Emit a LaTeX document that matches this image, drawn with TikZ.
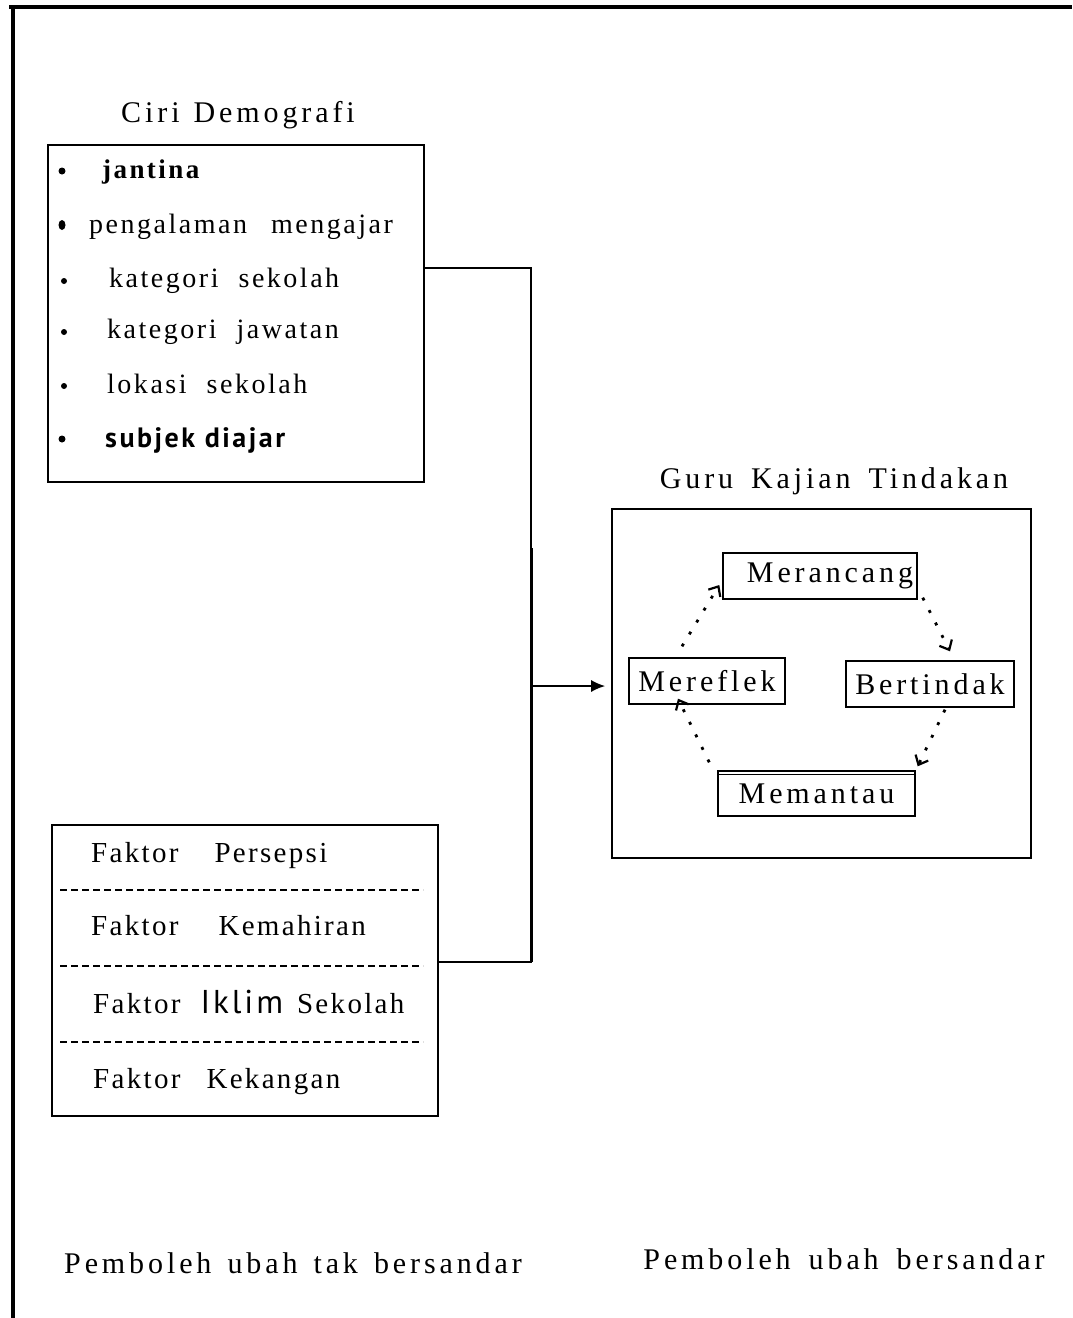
\documentclass[tikz,border=0pt]{standalone}
\usepackage{fontspec}
\setmainfont{Liberation Serif}
\newfontfamily\jarak[LetterSpace=13]{Liberation Serif}
\newfontfamily\butiran[LetterSpace=9]{Liberation Serif}
\newfontfamily\renggang[LetterSpace=8]{Liberation Serif}
\newfontfamily\tebal[LetterSpace=9]{PT Sans}
\usetikzlibrary{arrows.meta,shapes.geometric}

\begin{document}
\begin{tikzpicture}[x=1pt,y=-1pt]
\tikzstyle{kotak}=[draw, line width=1.6pt, inner sep=0pt]
\tikzstyle{tajuk}=[inner sep=0pt, anchor=base, font=\fontsize{30}{32}\selectfont\jarak]
\tikzstyle{butir}=[inner sep=0pt, anchor=base west, font=\fontsize{28}{30}\selectfont\butiran]
\tikzstyle{faktor}=[inner sep=0pt, anchor=base west, font=\fontsize{29}{32}\selectfont\renggang]
\tikzstyle{titik}=[circle, fill, inner sep=0pt, minimum size=7pt]
\tikzstyle{langkah}=[draw, line width=1.4pt, inner sep=0pt, font=\fontsize{30}{32}\selectfont\jarak]
\tikzstyle{kitar}=[line width=2.8pt, dash pattern=on 3pt off 11pt, -{Straight Barb[length=8pt,width=14pt,line width=2.2pt]}]
\tikzstyle{putus}=[line width=2pt, dash pattern=on 7pt off 4pt]
\useasboundingbox (0,0) rectangle (1072,1318);
% bingkai luar
\draw[line width=3.5pt] (9,7) -- (1072,7);
\draw[line width=3.5pt] (13,7) -- (13,1318);
% ciri demografi
\node[tajuk] (tciri) at (238,122) {Ciri\hspace{14pt}Demografi};
\node[kotak, minimum width=376pt, minimum height=337pt] (ciri) at (236,313.5) {};
\node[titik] (b1) at (62,171) {};
\node[butir, font=\fontsize{27}{30}\selectfont\butiran\bfseries] (jantina) at (102,178) {jantina};
\node[ellipse, fill, inner sep=0pt, minimum width=7pt, minimum height=10pt] (b2) at (62,225) {};
\node[butir] (alaman) at (89,233) {pengalaman\hspace{24pt}mengajar};
\node[titik, minimum size=6pt] (b3) at (64,281) {};
\node[butir] (sekolah) at (109,287) {kategori\hspace{20pt}sekolah};
\node[titik, minimum size=6pt] (b4) at (64,332) {};
\node[butir] (jawatan) at (107,338) {kategori\hspace{20pt}jawatan};
\node[titik, minimum size=6pt] (b5) at (64,386) {};
\node[butir] (lokasi) at (107,393) {lokasi\hspace{20pt}sekolah};
\node[titik] (b6) at (62,439) {};
\node[butir, font=\fontsize{28}{30}\selectfont\tebal\bfseries] (subjek) at (105,447) {subjek diajar};
% faktor
\node[kotak, minimum width=386pt, minimum height=291pt] (faktor) at (245,970.5) {};
\node[faktor] (f1) at (91,862) {Faktor\hspace{36pt}Persepsi};
\node[faktor] (f2) at (91,935) {Faktor\hspace{40pt}Kemahiran};
\node[faktor] (f3) at (93,1013) {Faktor\hspace{20pt}{\tebal\fontsize{33}{34}\selectfont Iklim}\hspace{14pt}Sekolah};
\node[faktor] (f4) at (93,1088) {Faktor\hspace{26pt}Kekangan};
\foreach \y in {890,966,1042}
  \draw[putus] (60,\y) -- (423,\y);
% penyambung
\coordinate (s1) at (531,268);
\coordinate (s2) at (531,962);
\coordinate (s3) at (531,686);
\coordinate (s4) at (531,548);
\draw[line width=1.6pt] (ciri.east |- s1) -- (s1) -- (s2) -- (faktor.east |- s2);
\draw[line width=3pt] (s4) -- (s2);
% guru kajian tindakan
\node[tajuk] (tguru) at (834,488) {Guru\hspace{18pt}Kajian\hspace{18pt}Tindakan};
\node[kotak, minimum width=419pt, minimum height=349pt] (guru) at (821.5,683.5) {};
\draw[line width=1.8pt, -{Latex[length=14pt,width=12pt]}, shorten >=6pt] (s3) -- (guru.west |- s3);
\node[langkah, minimum width=194pt, minimum height=46pt] (rancang) at (820,576) {\hspace{20pt}Merancang};
\node[langkah, minimum width=156pt, minimum height=46pt] (refleks) at (707,681) {Mereflek};
\node[langkah, minimum width=168pt, minimum height=46pt] (tindak) at (930,684) {Bertindak};
\node[langkah, minimum width=197pt, minimum height=45pt] (pantau) at (816.5,793.5) {Memantau\hspace{28pt}};
\draw[line width=1.4pt] ([yshift=-4pt]pantau.north west) -- ([yshift=-4pt]pantau.north east);
\draw[kitar] ([xshift=-25pt,yshift=11pt]refleks.north) -- ([xshift=-3pt,yshift=-9pt]rancang.west);
\draw[kitar] ([xshift=5pt,yshift=2pt]rancang.south east) -- ([xshift=20pt,yshift=9pt]tindak.north);
\draw[kitar] ([xshift=15pt,yshift=-2pt]tindak.south) -- ([xshift=2pt,yshift=4pt]pantau.north east);
\draw[kitar] ([xshift=-8pt,yshift=8pt]pantau.north west) -- ([xshift=-29pt,yshift=6pt]refleks.south);
% pemboleh ubah
\node[tajuk] (tbebas) at (293,1273) {Pemboleh\hspace{16pt}ubah\hspace{16pt}tak\hspace{16pt}bersandar};
\node[tajuk] (tsandar) at (844,1269) {Pemboleh\hspace{18pt}ubah\hspace{18pt}bersandar};
\end{tikzpicture}
\end{document}
